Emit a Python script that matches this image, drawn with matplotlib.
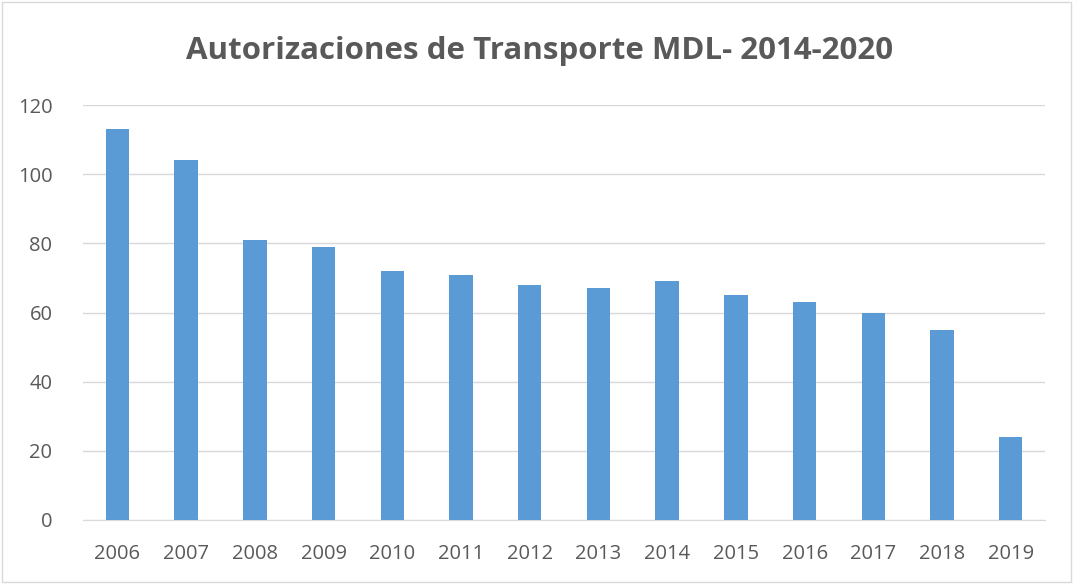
import matplotlib
matplotlib.use("Agg")
import matplotlib.pyplot as plt
import numpy as np

years = ['2006', '2007', '2008', '2009', '2010', '2011', '2012',
         '2013', '2014', '2015', '2016', '2017', '2018', '2019']
autorizaciones = [113, 104, 81, 79, 72, 71, 68, 67, 69, 65, 63, 60, 55, 24]

plt.rcParams['font.family'] = ['Open Sans', 'DejaVu Sans']

fig = plt.figure(figsize=(10.73, 5.84), dpi=100)
ax = fig.add_axes([0.0774, 0.1096, 0.8966, 0.7104])

x = np.arange(len(years))
ax.bar(x, autorizaciones, width=0.34, color='#5b9bd5', zorder=3)

ax.set_xlim(-0.5, len(years) - 0.5)
ax.set_ylim(0, 120)
ax.set_yticks(range(0, 121, 20))
ax.set_xticks(x)
ax.set_xticklabels(years)
ax.grid(axis='y', color='#d9d9d9', linewidth=1, zorder=0)
ax.tick_params(axis='both', length=0, labelsize=14.5, colors='#595959')
ax.tick_params(axis='x', pad=17)
ax.tick_params(axis='y', pad=22)
for s in ['top', 'right', 'left']:
    ax.spines[s].set_visible(False)
ax.spines['bottom'].set_color('#d9d9d9')

fig.text(0.503, 0.913, 'Autorizaciones de Transporte MDL- 2014-2020',
         ha='center', va='center', fontsize=22.5, fontweight='bold', color='#595959')

# outer frame
fig.patches.append(plt.Rectangle((0.002, 0.003), 0.996, 0.994, transform=fig.transFigure,
                                 fill=False, edgecolor='#d9d9d9', linewidth=1))

fig.savefig('out.png', dpi=100)
